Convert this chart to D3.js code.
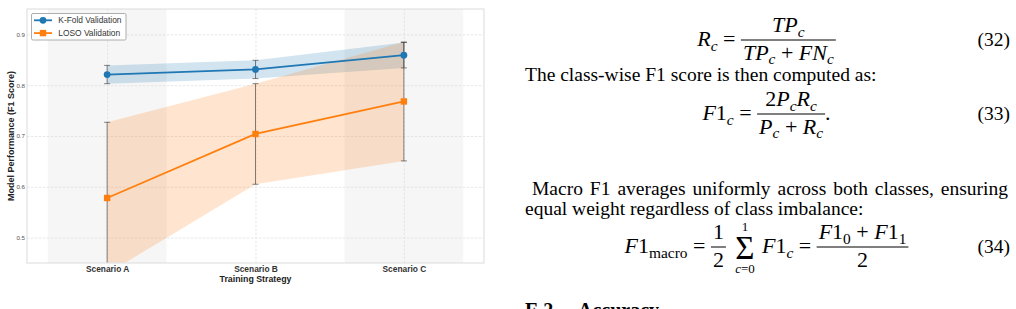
<!DOCTYPE html>
<html>
<head>
<meta charset="utf-8">
<script src="https://cdn.jsdelivr.net/npm/d3@7"></script>
<style>
  body { margin: 0; background: #fff; }
  svg { display: block; }
  text { white-space: pre; }
</style>
</head>
<body>
<div id="page"></div>
<script>
// chart values
const scenarios = ["Scenario A", "Scenario B", "Scenario C"];
const kfoldMean = [0.821, 0.831, 0.859];
const kfoldStd = [0.018, 0.018, 0.025];
const losoMean = [0.578, 0.704, 0.768];
const losoStd = [0.149, 0.099, 0.117];
const yTicks = [0.5, 0.6, 0.7, 0.8, 0.9];
const shadedScenarios = [0, 2];
const seriesNames = ["K-Fold Validation", "LOSO Validation"];
const seriesColors = ["#1f77b4", "#ff7f0e"];

const sans = "'Liberation Sans', Arial, sans-serif";
const serif = "'Liberation Serif', 'Times New Roman', serif";

const svg = d3.select("#page").append("svg")
    .attr("width", 1016)
    .attr("height", 309)
    .attr("style", "background-color: #fff;");

const plot = { left: 27, top: 9, right: 484, bottom: 263 };

const x = d3.scaleLinear().domain([-0.54, 2.54]).range([plot.left, plot.right]);
const y = d3.scaleLinear().domain([0.45, 0.95]).range([plot.bottom, plot.top]);

const series = [
    { name: seriesNames[0], color: seriesColors[0], marker: "circle",
      values: kfoldMean.map((m, i) => ({ i: i, mean: m, std: kfoldStd[i] })) },
    { name: seriesNames[1], color: seriesColors[1], marker: "square",
      values: losoMean.map((m, i) => ({ i: i, mean: m, std: losoStd[i] })) }
];

svg.append("clipPath").attr("id", "plotClip")
    .append("rect")
    .attr("x", plot.left).attr("y", plot.top)
    .attr("width", plot.right - plot.left)
    .attr("height", plot.bottom - plot.top);

const chart = svg.append("g").attr("clip-path", "url(#plotClip)");

// shaded scenario bands
chart.selectAll(".band").data(shadedScenarios).enter().append("rect")
    .attr("x", d => x(d - 0.4))
    .attr("y", plot.top)
    .attr("width", d => x(d + 0.4) - x(d - 0.4))
    .attr("height", plot.bottom - plot.top)
    .attr("fill", "#f6f6f6");

// grid
chart.append("g")
    .attr("transform", `translate(${plot.left},0)`)
    .call(d3.axisLeft(y).tickValues(yTicks).tickSize(-(plot.right - plot.left)).tickFormat(""))
    .call(g => g.select(".domain").remove())
    .call(g => g.selectAll("line").attr("stroke", "#dcdcdc").attr("stroke-width", 0.7).attr("stroke-dasharray", "2.5,1.5"));

chart.append("g")
    .attr("transform", `translate(0,${plot.bottom})`)
    .call(d3.axisBottom(x).tickValues([0, 1, 2]).tickSize(-(plot.bottom - plot.top)).tickFormat(""))
    .call(g => g.select(".domain").remove())
    .call(g => g.selectAll("line").attr("stroke", "#dcdcdc").attr("stroke-width", 0.7).attr("stroke-dasharray", "2.5,1.5"));

// std bands
const area = d3.area()
    .x(d => x(d.i))
    .y0(d => y(d.mean - d.std))
    .y1(d => y(d.mean + d.std));

chart.selectAll(".spread").data(series).enter().append("path")
    .attr("d", s => area(s.values))
    .attr("fill", s => s.color)
    .attr("fill-opacity", 0.2);

// error bars
series.forEach(s => {
    const eb = chart.append("g")
        .attr("stroke", "#333")
        .attr("stroke-opacity", 0.6)
        .attr("stroke-width", 1);
    eb.selectAll(".stem").data(s.values).enter().append("line")
        .attr("x1", d => x(d.i)).attr("x2", d => x(d.i))
        .attr("y1", d => y(d.mean - d.std)).attr("y2", d => y(d.mean + d.std));
    eb.selectAll(".capTop").data(s.values).enter().append("line")
        .attr("x1", d => x(d.i) - 3).attr("x2", d => x(d.i) + 3)
        .attr("y1", d => y(d.mean + d.std)).attr("y2", d => y(d.mean + d.std));
    eb.selectAll(".capBot").data(s.values).enter().append("line")
        .attr("x1", d => x(d.i) - 3).attr("x2", d => x(d.i) + 3)
        .attr("y1", d => y(d.mean - d.std)).attr("y2", d => y(d.mean - d.std));
});

// lines and markers
const line = d3.line().x(d => x(d.i)).y(d => y(d.mean));

function drawMarker(g, kind, cx, cy, color) {
    if (kind === "circle") {
        g.append("circle").attr("cx", cx).attr("cy", cy).attr("r", 3.4).attr("fill", color);
    } else {
        g.append("rect").attr("x", cx - 3.2).attr("y", cy - 3.2)
            .attr("width", 6.4).attr("height", 6.4).attr("fill", color);
    }
}

series.forEach(s => {
    chart.append("path")
        .attr("d", line(s.values))
        .attr("fill", "none")
        .attr("stroke", s.color)
        .attr("stroke-width", 1.8);
    s.values.forEach(d => drawMarker(chart, s.marker, x(d.i), y(d.mean), s.color));
});

// frame
svg.append("rect")
    .attr("x", plot.left).attr("y", plot.top)
    .attr("width", plot.right - plot.left)
    .attr("height", plot.bottom - plot.top)
    .attr("fill", "none")
    .attr("stroke", "#e2e2e2")
    .attr("stroke-width", 1.2);

// axes labels
svg.append("g")
    .attr("transform", `translate(${plot.left},0)`)
    .call(d3.axisLeft(y).tickValues(yTicks).tickSize(0).tickPadding(2).tickFormat(d3.format(".1f")))
    .call(g => g.select(".domain").remove())
    .call(g => g.selectAll("text").attr("font-family", sans).attr("font-size", 6.2).attr("fill", "#555"));

svg.append("g")
    .attr("transform", `translate(0,${plot.bottom})`)
    .call(d3.axisBottom(x).tickValues([0, 1, 2]).tickSize(0).tickPadding(3).tickFormat(i => scenarios[i]))
    .call(g => g.select(".domain").remove())
    .call(g => g.selectAll("text").attr("font-family", sans).attr("font-size", 8.4)
        .attr("font-weight", "bold").attr("fill", "#333"));

svg.append("text")
    .attr("x", x(1)).attr("y", 282)
    .attr("text-anchor", "middle")
    .attr("font-family", sans).attr("font-size", 8.8).attr("font-weight", "bold").attr("fill", "#222")
    .text("Training Strategy");

svg.append("text")
    .attr("transform", `translate(13.5,${(plot.top + plot.bottom) / 2}) rotate(-90)`)
    .attr("text-anchor", "middle")
    .attr("font-family", sans).attr("font-size", 9).attr("font-weight", "bold").attr("fill", "#222")
    .text("Model Performance (F1 Score)");

// legend
const legend = svg.append("g");
legend.append("rect")
    .attr("x", 31.5).attr("y", 13.5).attr("width", 94.5).attr("height", 26.5)
    .attr("rx", 1.5)
    .attr("fill", "#fff").attr("stroke", "#999").attr("stroke-width", 0.8);
series.forEach((s, k) => {
    const ly = 20.3 + k * 12.8;
    legend.append("line")
        .attr("x1", 34).attr("x2", 52).attr("y1", ly).attr("y2", ly)
        .attr("stroke", s.color).attr("stroke-width", 1.8);
    drawMarker(legend, s.marker, 43, ly, s.color);
    legend.append("text")
        .attr("x", 58.3).attr("y", ly + 3)
        .attr("font-family", sans).attr("font-size", 8.4).attr("fill", "#333")
        .text(s.name);
});

// ---- right column: text and equations ----
const fs = 19.5;      // body text
const ms = 22;        // math
const colCenter = 766.5;
const page = svg.append("g").attr("font-family", serif).attr("fill", "#000");

function mathText(g, x0, y0, parts, anchor, size) {
    size = size || fs;
    const t = g.append("text")
        .attr("x", x0).attr("y", y0)
        .attr("text-anchor", anchor || "start")
        .attr("font-size", size);
    let shifted = 0;
    parts.forEach(p => {
        const sub = p[1].startsWith("s");
        const shift = sub ? size * 0.22 : 0;
        t.append("tspan")
            .attr("dy", shift - shifted)
            .attr("font-style", p[1].endsWith("i") ? "italic" : "normal")
            .attr("font-size", sub ? size * 0.7 : size)
            .text(p[0]);
        shifted = shift;
    });
    return t;
}

// lays items out left to right, then centres the whole row on the column
function equation(axisY, items, tag) {
    const g = page.append("g");
    const base = axisY + 6;
    let cx = 0;
    items.forEach(it => {
        if (it.run) {
            const t = mathText(g, cx, base, it.run, "start", ms);
            cx += t.node().getComputedTextLength();
        } else if (it.num) {
            const n = mathText(g, 0, axisY - 8, it.num, "start", ms);
            const d = mathText(g, 0, axisY + 19.5, it.den, "start", ms);
            const wn = n.node().getComputedTextLength();
            const wd = d.node().getComputedTextLength();
            const w = Math.max(wn, wd) + 4;
            n.attr("x", cx + (w - wn) / 2);
            d.attr("x", cx + (w - wd) / 2);
            g.append("line")
                .attr("x1", cx).attr("x2", cx + w).attr("y1", axisY).attr("y2", axisY)
                .attr("stroke", "#000").attr("stroke-width", 1);
            cx += w;
        } else if (it.sum) {
            const mid = cx + 15;
            mathText(g, mid, axisY + 12, [["\u03A3", "r"]], "middle", 33);
            mathText(g, mid, axisY - 16, it.sum[0], "middle", 13);
            mathText(g, mid, axisY + 26, it.sum[1], "middle", 13);
            cx += 30;
        } else if (it.space) {
            cx += it.space;
        }
    });
    g.attr("transform", `translate(${colCenter - cx / 2},0)`);
    mathText(page, 1010, base, [[tag, "r"]], "end");
}

// (32)
equation(40, [
    { run: [["R", "i"], ["c", "si"], [" = ", "r"]] },
    { num: [["TP", "i"], ["c", "si"]],
      den: [["TP", "i"], ["c", "si"], [" + ", "r"], ["FN", "i"], ["c", "si"]] }
], "(32)");

mathText(page, 525, 81, [["The class-wise F1 score is then computed as:", "r"]]);

// (33)
equation(114, [
    { run: [["F", "i"], ["1", "r"], ["c", "si"], [" = ", "r"]] },
    { num: [["2", "r"], ["P", "i"], ["c", "si"], ["R", "i"], ["c", "si"]],
      den: [["P", "i"], ["c", "si"], [" + ", "r"], ["R", "i"], ["c", "si"]] },
    { run: [[".", "r"]] }
], "(33)");

// justified paragraph line
const para = mathText(page, 532, 195, [["Macro F1 averages uniformly across both classes, ensuring", "r"]]);
const natural = para.node().getComputedTextLength();
para.attr("word-spacing", Math.max(0, (1008 - 532 - natural) / 7));
mathText(page, 525, 215, [["equal weight regardless of class imbalance:", "r"]]);

// (34)
equation(247, [
    { run: [["F", "i"], ["1", "r"], ["macro", "sr"], [" = ", "r"]] },
    { num: [["1", "r"]], den: [["2", "r"]] },
    { space: 4 },
    { sum: [[["1", "r"]], [["c", "i"], ["=0", "r"]]] },
    { space: 2 },
    { run: [["F", "i"], ["1", "r"], ["c", "si"], [" = ", "r"]] },
    { num: [["F", "i"], ["1", "r"], ["0", "sr"], [" + ", "r"], ["F", "i"], ["1", "r"], ["1", "sr"]],
      den: [["2", "r"]] }
], "(34)");

// section heading, cut at the bottom edge
page.append("text").attr("x", 525).attr("y", 317)
    .attr("font-size", 20).attr("font-weight", "bold").text("E.2");
page.append("text").attr("x", 578).attr("y", 317)
    .attr("font-size", 20).attr("font-weight", "bold").text("Accuracy");
</script>
</body>
</html>
